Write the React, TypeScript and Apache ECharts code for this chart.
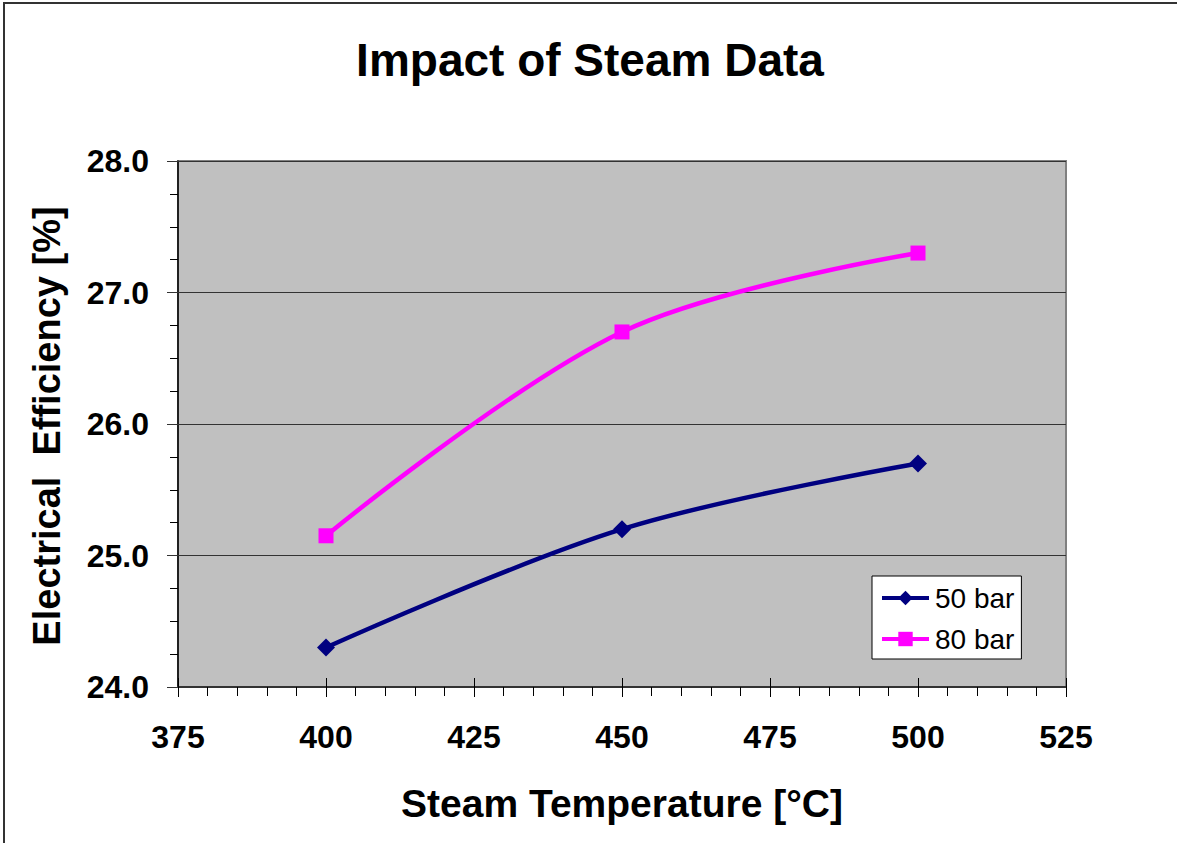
import React, { useEffect, useRef } from "react";
import * as echarts from "echarts";

const temperatures = [400, 450, 500];
const bar50 = [24.3, 25.2, 25.7];
const bar80 = [25.15, 26.7, 27.3];
const seriesNames = ["50 bar", "80 bar"];

export default function App() {
  const ref = useRef<HTMLDivElement>(null);
  useEffect(() => {
    if (!ref.current) return;
    const chart = echarts.init(ref.current, null, { renderer: "svg" });
    const font = "Arial, 'Liberation Sans', sans-serif";
    const xCommon = {
      type: "value",
      min: 375,
      max: 525,
      interval: 25,
      gridIndex: 0,
    };
    const yCommon = {
      type: "value",
      min: 24,
      max: 28,
      interval: 1,
      gridIndex: 0,
    };
    chart.setOption({
      animation: false,
      backgroundColor: "#ffffff",
      graphic: [
        {
          type: "rect",
          shape: { x: 4, y: 3, width: 1400, height: 1000 },
          style: { fill: "none", stroke: "#333333", lineWidth: 2 },
          silent: true,
        },
        {
          type: "text",
          x: 590,
          y: 60,
          style: {
            text: "Impact of Steam Data",
            font: `bold 46px ${font}`,
            fill: "#000",
            align: "center",
            verticalAlign: "middle",
          },
        },
        {
          type: "text",
          x: 622,
          y: 803,
          style: {
            text: "Steam Temperature [°C]",
            font: `bold 39px ${font}`,
            fill: "#000",
            align: "center",
            verticalAlign: "middle",
          },
        },
        {
          type: "text",
          x: 47,
          y: 426,
          rotation: Math.PI / 2,
          style: {
            text: "Electrical  Efficiency [%]",
            font: `bold 38px ${font}`,
            fill: "#000",
            align: "center",
            verticalAlign: "middle",
          },
        },
      ],
      grid: {
        left: 178,
        right: 111,
        top: 161,
        bottom: 156,
        show: true,
        backgroundColor: "#C0C0C0",
        borderColor: "#808080",
        borderWidth: 2,
      },
      legend: {
        left: 872,
        top: 576,
        orient: "vertical",
        data: seriesNames,
        backgroundColor: "#ffffff",
        borderColor: "#000000",
        borderWidth: 1,
        borderRadius: 0,
        padding: [8, 7, 6, 8],
        itemWidth: 47,
        itemHeight: 18,
        itemGap: 13,
        lineStyle: { width: 4 },
        textStyle: { fontFamily: font, fontSize: 28, color: "#000", padding: [0, 0, 0, 1] },
      },
      xAxis: [
        {
          ...xCommon,
          position: "bottom",
          axisLine: { show: true, onZero: false, lineStyle: { color: "#333", width: 2 } },
          axisTick: { show: true, inside: false, length: 10, lineStyle: { color: "#000", width: 1 } },
          minorTick: { show: true, splitNumber: 5, length: 9, lineStyle: { color: "#000", width: 1 } },
          axisLabel: {
            show: true,
            margin: 34,
            fontFamily: font,
            fontWeight: "bold",
            fontSize: 32,
            color: "#000",
          },
          splitLine: { show: false },
        },
        {
          ...xCommon,
          position: "bottom",
          axisLine: { show: false },
          axisTick: { show: true, inside: true, length: 9, lineStyle: { color: "#000", width: 1 } },
          axisLabel: { show: false },
          splitLine: { show: false },
        },
      ],
      yAxis: [
        {
          ...yCommon,
          position: "left",
          axisLine: { show: true, onZero: false, lineStyle: { color: "#000", width: 1.5 } },
          axisTick: { show: true, inside: false, length: 11, lineStyle: { color: "#333", width: 1 } },
          minorTick: { show: true, splitNumber: 4, length: 8, lineStyle: { color: "#000", width: 1 } },
          axisLabel: {
            show: true,
            margin: 29,
            fontFamily: font,
            fontWeight: "bold",
            fontSize: 32,
            color: "#000",
            formatter: (v: number) => v.toFixed(1),
          },
          splitLine: { show: true, lineStyle: { color: "#333333", width: 1 } },
        },
        {
          ...yCommon,
          position: "left",
          axisLine: { show: false },
          axisTick: { show: true, inside: true, length: 8, lineStyle: { color: "#333", width: 1 } },
          axisLabel: { show: false },
          splitLine: { show: false },
        },
      ],
      series: [
        {
          name: seriesNames[0],
          type: "line",
          smooth: 0.35,
          data: temperatures.map((t, i) => [t, bar50[i]]),
          symbol: "diamond",
          symbolSize: 18,
          itemStyle: { color: "#000080" },
          lineStyle: { color: "#000080", width: 4.5 },
          z: 3,
        },
        {
          name: seriesNames[1],
          type: "line",
          smooth: 0.35,
          data: temperatures.map((t, i) => [t, bar80[i]]),
          symbol: "rect",
          symbolSize: 15,
          itemStyle: { color: "#FF00FF" },
          lineStyle: { color: "#FF00FF", width: 4.5 },
          z: 3,
        },
      ],
    });
    return () => chart.dispose();
  }, []);
  return (
    <div
      ref={ref}
      style={{ position: "absolute", left: 0, top: 0, width: 1177, height: 843 }}
    />
  );
}
